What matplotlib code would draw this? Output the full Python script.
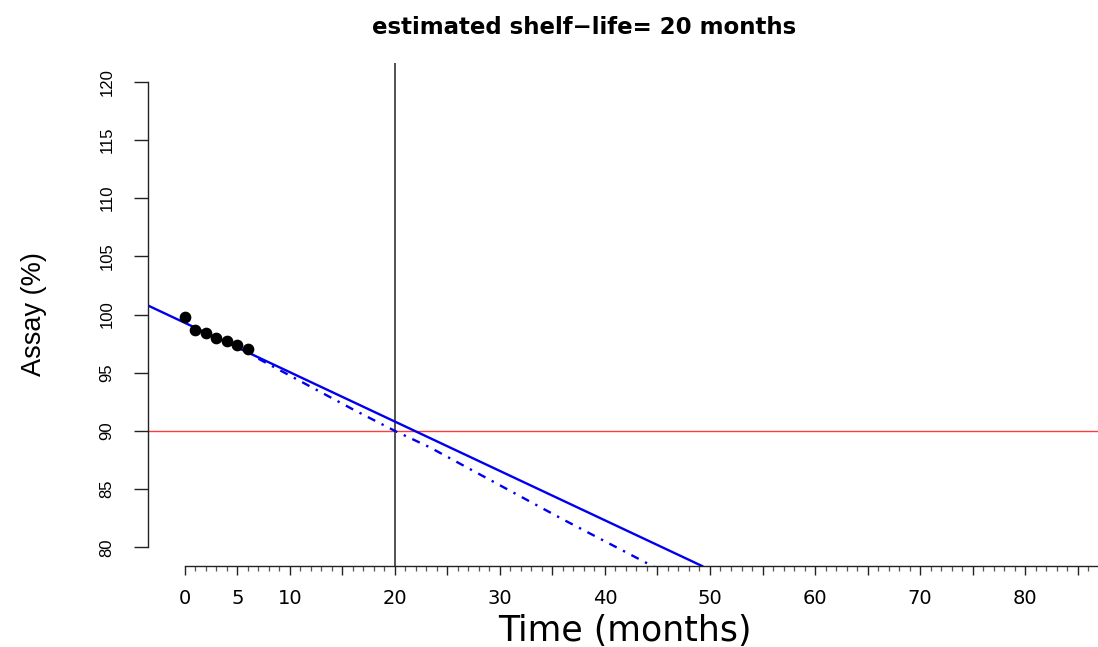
import matplotlib
matplotlib.use("Agg")
import matplotlib.pyplot as plt
from matplotlib.ticker import FixedLocator
import numpy as np

# Stability data
time = [0, 1, 2, 3, 4, 5, 6]
assay = [99.8, 98.7, 98.4, 98.0, 97.7, 97.4, 97.0]

# fitted regression line (intercept, slope)
fit_intercept = 99.28
fit_slope = -0.424

# lower confidence bound (dot-dash line)
ci_time = [7, 16, 20, 23.3, 36, 46]
ci_low = [96.2, 91.85, 90.0, 88.6, 82.4, 77.7]

spec_limit = 90
shelf_life = 20

x_ticks = list(range(0, 90, 5))
x_labels = ["0", "5", "10", "", "20", "", "30", "", "40", "", "50", "", "60", "", "70", "", "80", ""]
x_minor = list(range(0, 88))
y_ticks = list(range(80, 125, 5))

yfont = "Liberation Sans"

fig = plt.figure(figsize=(10.98, 6.47), dpi=100)
ax = fig.add_axes([148 / 1098, 81 / 647, 950 / 1098, 503 / 647])
ax.set_xlim(-3.52, 86.95)
ax.set_ylim(78.4, 121.6)

# limit lines
ax.axhline(spec_limit, color="#ff3b3b", lw=1.0, zorder=1)
ax.axvline(shelf_life, color="#222222", lw=1.1, zorder=1)

# fit and lower bound
ax.axline((0, fit_intercept), slope=fit_slope, color="#0000ee", lw=1.7, zorder=2)
ax.plot(ci_time, ci_low, color="#0000ee", lw=1.7, ls=(0, (3.5, 3, 1, 3)), zorder=2)

# data points
ax.scatter(time, assay, s=55, color="black", zorder=3)

# R style axes
for s in ["top", "right"]:
    ax.spines[s].set_visible(False)
ax.spines["left"].set_bounds(80, 120)
ax.spines["bottom"].set_bounds(0, 87)
for s in ["left", "bottom"]:
    ax.spines[s].set_color("#222222")
    ax.spines[s].set_linewidth(1.0)

ax.xaxis.set_major_locator(FixedLocator(x_ticks))
ax.set_xticklabels(x_labels)
ax.xaxis.set_minor_locator(FixedLocator(x_minor))
ax.tick_params(axis="x", which="major", length=6.5, width=1.0, pad=10,
               labelsize=14, color="#222222")
ax.tick_params(axis="x", which="minor", length=3.6, width=0.9, color="#555555")

ax.set_yticks(y_ticks)
ax.tick_params(axis="y", length=10, width=1.0, pad=14, color="#222222",
               labelsize=12, labelrotation=90)
plt.setp(ax.get_yticklabels(), va="center", family=yfont, fontsize=12)

fig.text(584.5 / 1098, 1 - 27 / 647, "estimated shelf\u2212life= 20 months",
         ha="center", va="center", fontsize=16.5, fontweight="bold")
fig.text(625 / 1098, 1 - 631 / 647, "Time (months)", ha="center", va="center",
         fontsize=25)
fig.text(34 / 1098, 1 - 314 / 647, "Assay (%)", ha="center", va="center",
         rotation=90, fontsize=19.5, family=yfont)

fig.savefig("out.png", dpi=100)
